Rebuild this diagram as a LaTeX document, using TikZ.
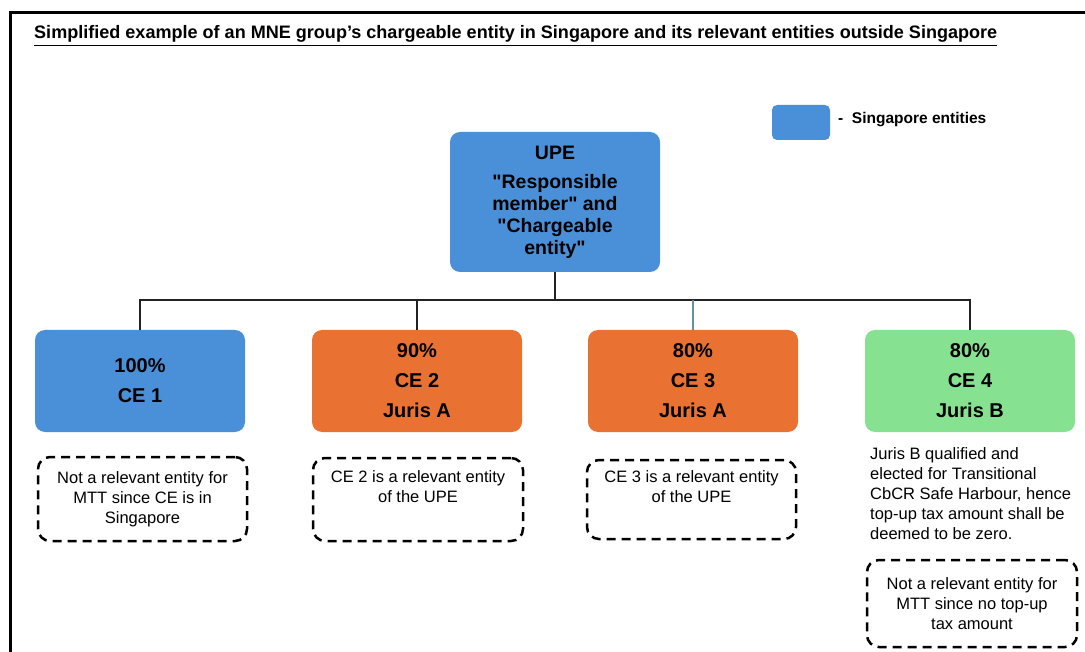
\documentclass[tikz,border=0pt]{standalone}
\usepackage{fontspec}
\setmainfont{Liberation Sans}[Ligatures=TeXOff]
\usepackage{graphicx}
\definecolor{sgblue}{HTML}{4A90D9}
\definecolor{jurisA}{HTML}{E97132}
\definecolor{jurisB}{HTML}{86E191}
\definecolor{linkgray}{HTML}{222222}
\definecolor{linkteal}{HTML}{6A8E9E}
\tikzset{
  entity/.style={draw=none, rounded corners=10pt, minimum width=210pt, minimum height=102pt,
    align=center, inner sep=0pt, font=\fontsize{20}{30}\selectfont\bfseries},
  notebox/.style={draw=black, line width=2.5pt, dash pattern=on 9pt off 6pt, rounded corners=12pt,
    align=center, inner sep=0pt, font=\fontsize{16.5}{20}\selectfont},
  link/.style={draw=linkgray, line width=1.8pt},
}
\begin{document}
\begin{tikzpicture}[x=1pt, y=-1pt]
\useasboundingbox (0,0) rectangle (1085,652);
% frame
\draw[line width=3pt] (10,652) -- (10,13) -- (1085,13);
% heading
\node[anchor=west, inner sep=0pt] (title) at (34,36)
  {\resizebox{963pt}{!}{\bfseries\underline{Simplified example of an MNE group’s chargeable entity in Singapore and its relevant entities outside Singapore}}};
% legend
\node[fill=sgblue, rounded corners=5pt, minimum width=58pt, minimum height=35pt, inner sep=0pt] (key) at (801,122.5) {};
\node[anchor=west, inner sep=0pt, font=\fontsize{15.5}{18}\selectfont\bfseries] (keytext) at (838,120) {-\ \ Singapore entities};
% ultimate parent
\node[entity, fill=sgblue, minimum height=140pt, font=\fontsize{19.5}{22}\selectfont\bfseries] (upe) at (555,202)
  {UPE\\[7pt]"Responsible\\member" and\\"Chargeable\\entity"};
% constituent entities
\node[entity, fill=sgblue] (ce1) at (140,381) {100\%\\CE 1};
\node[entity, fill=jurisA] (ce2) at (417,381) {90\%\\CE 2\\Juris A};
\node[entity, fill=jurisA] (ce3) at (693,381) {80\%\\CE 3\\Juris A};
\node[entity, fill=jurisB] (ce4) at (970,381) {80\%\\CE 4\\Juris B};
% ownership links
\draw[link] (upe.south) -- ++(0,28) coordinate (bus);
\draw[link] (ce1.north) -- (ce1.north |- bus) -- (ce4.north |- bus) -- (ce4.north);
\draw[link] (ce2.north) -- (ce2.north |- bus);
\draw[link, draw=linkteal] (ce3.north) -- (ce3.north |- bus);
% notes
\node[notebox, minimum width=209pt, minimum height=84pt] (n1) at (142.5,499)
  {Not a relevant entity for\\MTT since CE is in\\Singapore};
\node[notebox, minimum width=210pt, minimum height=83pt] (n2) at (418,499.5)
  {CE 2 is a relevant entity\\of the UPE\\\strut};
\node[notebox, minimum width=209pt, minimum height=79pt] (n3) at (691.5,499.5)
  {CE 3 is a relevant entity\\of the UPE\\\strut};
\node[anchor=north west, align=left, inner sep=0pt, font=\fontsize{16.5}{20.2}\selectfont] (n4text) at (870,447)
  {Juris B qualified and\\elected for Transitional\\CbCR Safe Harbour, hence\\top-up tax amount shall be\\deemed to be zero.};
\node[notebox, minimum width=210pt, minimum height=87pt] (n4) at (972,603.5)
  {Not a relevant entity for\\MTT since no top-up\\tax amount};
\end{tikzpicture}
\end{document}
